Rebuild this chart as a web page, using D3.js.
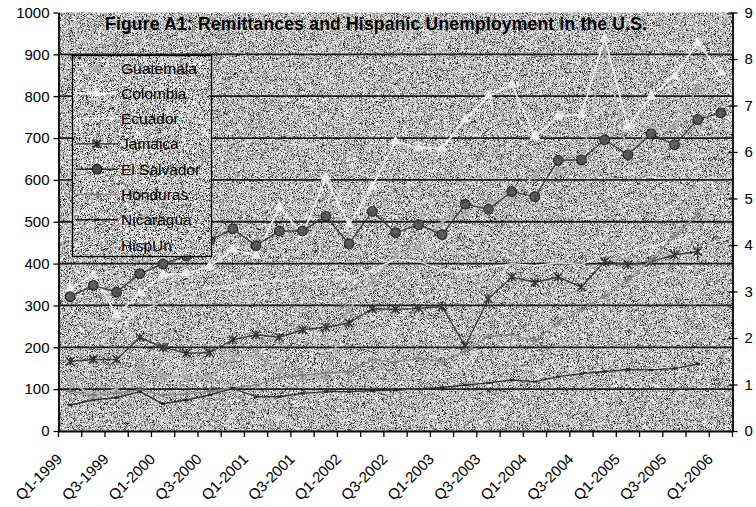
<!DOCTYPE html>
<html>
<head>
<meta charset="utf-8">
<script src="https://cdn.jsdelivr.net/npm/d3@7"></script>
<style>
  body { margin: 0; background: #fff; }
  svg text { font-family: "Liberation Sans", Arial, sans-serif; fill: #000; }
</style>
</head>
<body>
<svg id="chart" width="756" height="507"></svg>
<script>
// Quarterly remittances (millions of US$) by origin country, 1999–2006
const quarters = [
  "Q1-1999","Q2-1999","Q3-1999","Q4-1999",
  "Q1-2000","Q2-2000","Q3-2000","Q4-2000",
  "Q1-2001","Q2-2001","Q3-2001","Q4-2001",
  "Q1-2002","Q2-2002","Q3-2002","Q4-2002",
  "Q1-2003","Q2-2003","Q3-2003","Q4-2003",
  "Q1-2004","Q2-2004","Q3-2004","Q4-2004",
  "Q1-2005","Q2-2005","Q3-2005","Q4-2005",
  "Q1-2006"
];
const guatemala  = [118, 85, 100, 154, 132, 128, 128, 176, 184, 148, 130, 134, 290, 360, 420, 440, 500, 520, 540, 560, 612, 620, 640, 911, 660, 720, 728, 820];
const colombia   = [340, 373, 277, 330, 373, 377, 393, 433, 419, 535, 470, 605, 493, 584, 692, 676, 676, 744, 800, 828, 704, 752, 756, 939, 728, 800, 848, 927, 856];
const ecuador    = [280, 265, 250, 285, 310, 330, 340, 350, 355, 360, 365, 370, 365, 385, 410, 405, 385, 380, 390, 400, 395, 402, 398, 420, 430, 440, 455, 470];
const jamaica    = [166, 171, 171, 224, 200, 186, 187, 218, 230, 224, 242, 248, 258, 292, 291, 293, 297, 203, 316, 368, 355, 368, 344, 405, 397, 405, 421, 429];
const elSalvador = [321, 348, 332, 376, 399, 419, 455, 483, 443, 478, 478, 513, 447, 525, 474, 493, 469, 542, 530, 572, 560, 647, 648, 696, 660, 710, 684, 744, 760];
const honduras   = [95, 86, 90, 98, 85, 88, 95, 103, 110, 127, 134, 139, 141, 170, 165, 174, 166, 190, 226, 230, 215, 258, 290, 323, 361, 409, 465, 517];
const nicaragua  = [62, 74, 80, 94, 65, 74, 86, 102, 82, 82, 90, 94, 94, 96, 98, 100, 104, 110, 115, 122, 118, 130, 137, 142, 147, 146, 149, 160];
const hispUn     = [];   // Hispanic unemployment rate (%), right axis

const leftTicks  = [0, 100, 200, 300, 400, 500, 600, 700, 800, 900, 1000];
const rightTicks = [0, 1, 2, 3, 4, 5, 6, 7, 8, 9];
const title = "Figure A1: Remittances and Hispanic Unemployment in the U.S.";

const W = 756, H = 507;
const plot = { left: 58.5, right: 732.5, top: 12.5, bottom: 431 };

const svg = d3.select("#chart");

// ---- speckled plot-area texture (seeded, so it is stable between renders)
function rng(seed) {
  return function () {
    seed |= 0; seed = seed + 0x6D2B79F5 | 0;
    let t = Math.imul(seed ^ seed >>> 15, 1 | seed);
    t = t + Math.imul(t ^ t >>> 7, 61 | t) ^ t;
    return ((t ^ t >>> 14) >>> 0) / 4294967296;
  };
}
function speckle(seed, levels) {
  const c = document.createElement("canvas");
  c.width = W; c.height = H;
  const ctx = c.getContext("2d");
  const img = ctx.createImageData(W, H);
  const r = rng(seed);
  for (let i = 0; i < W * H; i++) {
    const u = r();
    let v = 0, acc = 0;
    for (const [p, g] of levels) { acc += p; v = g; if (u < acc) break; }
    img.data[i * 4] = img.data[i * 4 + 1] = img.data[i * 4 + 2] = v;
    img.data[i * 4 + 3] = 255;
  }
  ctx.putImageData(img, 0, 0);
  return c.toDataURL();
}
const texture = speckle(12345, [[0.08, 35], [0.15, 115], [0.3, 172], [0.22, 215], [0.25, 250]]);

const defs = svg.append("defs");
defs.append("pattern").attr("id", "grain").attr("patternUnits", "userSpaceOnUse")
  .attr("x", 0).attr("y", 0).attr("width", W).attr("height", H)
  .append("image").attr("href", texture).attr("width", W).attr("height", H)
  .style("image-rendering", "pixelated");
defs.append("clipPath").attr("id", "plotClip").append("rect")
  .attr("x", plot.left).attr("y", plot.top)
  .attr("width", plot.right - plot.left).attr("height", plot.bottom - plot.top);

svg.append("rect").attr("x", plot.left).attr("y", plot.top)
  .attr("width", plot.right - plot.left).attr("height", plot.bottom - plot.top)
  .attr("fill", "url(#grain)");

// ---- scales
const x = d3.scaleBand().domain(quarters).range([plot.left, plot.right]).padding(0);
const cx = q => x(q) + x.bandwidth() / 2;
const yL = d3.scaleLinear().domain([0, 1000]).range([plot.bottom, plot.top]);
const yR = d3.scaleLinear().domain([0, 9]).range([plot.bottom, plot.top]);

// ---- horizontal gridlines
svg.append("g").selectAll("line").data(leftTicks.filter(t => t > 0 && t < 1000)).join("line")
  .attr("x1", plot.left).attr("x2", plot.right)
  .attr("y1", d => yL(d)).attr("y2", d => yL(d))
  .attr("stroke", "#000").attr("stroke-width", 1.8);

// ---- markers
const star = s => `M${-s},${-s}L${s},${s}M${-s},${s}L${s},${-s}M0,${-s}L0,${s}`;
const plus = s => `M${-s},0H${s}M0,${-s}V${s}`;
const dash = s => `M${-s},0H${s}`;
const tri = d3.symbol(d3.symbolTriangle, 42)();

const seriesDefs = [
  { name: "Guatemala",   data: guatemala,  line: "#b8b8b8", w: 1.7, marker: "star",   mc: "#a6a6a6", ms: 4.5 },
  { name: "Colombia",    data: colombia,   line: "#ffffff", w: 1.7, marker: "tri",    mc: "#ffffff" },
  { name: "Ecuador",     data: ecuador,    line: "#f2f2f2", w: 1.3, marker: null },
  { name: "Jamaica",     data: jamaica,    line: "#2a2a2a", w: 1.4, marker: "star",   mc: "#1e1e1e", ms: 4.2 },
  { name: "El Salvador", data: elSalvador, line: "#2a2a2a", w: 1.4, marker: "circle", mc: "#4a4a4a" },
  { name: "Honduras",    data: honduras,   line: "#8a8a8a", w: 1.5, marker: "plus",   mc: "#7a7a7a", ms: 3.8 },
  { name: "Nicaragua",   data: nicaragua,  line: "#1e1e1e", w: 1.4, marker: "dash",   mc: "#111", ms: 2.2 },
  { name: "HispUn",      data: hispUn,     line: "none",    w: 0,   marker: null, right: true }
];

function drawMarker(g, s, px, py) {
  if (s.marker === "star") {
    g.append("path").attr("d", star(s.ms)).attr("transform", `translate(${px},${py})`)
      .attr("stroke", s.mc).attr("stroke-width", 1.5).attr("fill", "none");
  } else if (s.marker === "plus") {
    g.append("path").attr("d", plus(s.ms)).attr("transform", `translate(${px},${py})`)
      .attr("stroke", s.mc).attr("stroke-width", 1.3).attr("fill", "none");
  } else if (s.marker === "dash") {
    g.append("path").attr("d", dash(s.ms)).attr("transform", `translate(${px},${py})`)
      .attr("stroke", s.mc).attr("stroke-width", 2.4).attr("fill", "none");
  } else if (s.marker === "tri") {
    g.append("path").attr("d", tri).attr("transform", `translate(${px},${py})`)
      .attr("fill", s.mc).attr("stroke", "#eeeeee").attr("stroke-width", 0.6);
  } else if (s.marker === "circle") {
    g.append("circle").attr("cx", px).attr("cy", py).attr("r", 4.8)
      .attr("fill", s.mc).attr("stroke", "#151515").attr("stroke-width", 1.2);
  }
}

const series = svg.append("g").attr("clip-path", "url(#plotClip)");
seriesDefs.forEach(s => {
  if (!s.data.length) return;
  const yS = s.right ? yR : yL;
  const pts = s.data.map((v, i) => [cx(quarters[i]), yS(v)]);
  const g = series.append("g");
  g.append("path").attr("d", d3.line()(pts)).attr("fill", "none")
    .attr("stroke", s.line).attr("stroke-width", s.w).attr("stroke-linejoin", "round");
  if (s.marker) pts.forEach(p => drawMarker(g, s, p[0], p[1]));
});

// light grain over the drawn lines
const grain2 = speckle(98765, [[0.2, 40], [0.2, 120], [0.2, 185], [0.4, 250]]);
svg.append("image").attr("href", grain2).attr("width", W).attr("height", H)
  .attr("clip-path", "url(#plotClip)").attr("opacity", 0.16)
  .style("image-rendering", "pixelated");

// ---- axes
const fontSize = "15px";
const axL = svg.append("g").attr("transform", `translate(${plot.left},0)`)
  .call(d3.axisLeft(yL).tickValues(leftTicks).tickFormat(d3.format("d"))
    .tickSize(5).tickSizeOuter(0).tickPadding(4));
const axR = svg.append("g").attr("transform", `translate(${plot.right},0)`)
  .call(d3.axisRight(yR).tickValues(rightTicks).tickFormat(d3.format("d"))
    .tickSize(5).tickSizeOuter(0).tickPadding(7));
axR.selectAll(".tick line").attr("x1", -4);
const axB = svg.append("g").attr("transform", `translate(0,${plot.bottom})`)
  .call(d3.axisBottom(x).tickSize(0).tickFormat(""));
// tick marks on every category boundary
axB.append("g").selectAll("line").data(quarters.concat(["end"])).join("line")
  .attr("x1", (d, i) => plot.left + i * x.bandwidth()).attr("x2", (d, i) => plot.left + i * x.bandwidth())
  .attr("y1", 0).attr("y2", 6).attr("stroke", "#000").attr("stroke-width", 1.3);

[axL, axR, axB].forEach(a => {
  a.select(".domain").attr("stroke", "#000").attr("stroke-width", 1.8);
  a.selectAll(".tick line").attr("stroke", "#000").attr("stroke-width", 1.3);
  a.selectAll("text").attr("font-size", fontSize).attr("fill", "#000")
    .style("font-family", "\"Liberation Sans\", Arial, sans-serif");
});

// rotated category labels, every other quarter
svg.append("g").selectAll("text").data(quarters.filter((q, i) => i % 2 === 0)).join("text")
  .attr("transform", q => `translate(${cx(q) - 7},${plot.bottom + 29}) rotate(-45)`)
  .attr("text-anchor", "end").attr("font-size", fontSize).text(q => q);

// ---- title
svg.append("text").attr("x", 105).attr("y", 30)
  .attr("font-size", "17.5px").attr("font-weight", "bold")
  .attr("textLength", 542).attr("lengthAdjust", "spacing").text(title);

// ---- legend
const lg = svg.append("g");
lg.append("rect").attr("x", 72.5).attr("y", 55.5).attr("width", 139).attr("height", 201)
  .attr("fill", "url(#grain)").attr("stroke", "#000").attr("stroke-width", 1.3);
seriesDefs.forEach((s, i) => {
  const yy = 68 + i * 25.3;
  const row = lg.append("g");
  if (s.line !== "none") {
    row.append("line").attr("x1", 76).attr("x2", 118).attr("y1", yy).attr("y2", yy)
      .attr("stroke", s.line).attr("stroke-width", s.w);
  }
  if (s.marker) drawMarker(row, s, 97, yy);
  row.append("text").attr("x", 121).attr("y", yy).attr("dy", "0.36em")
    .attr("font-size", "15.5px").text(s.name);
});
</script>
</body>
</html>
